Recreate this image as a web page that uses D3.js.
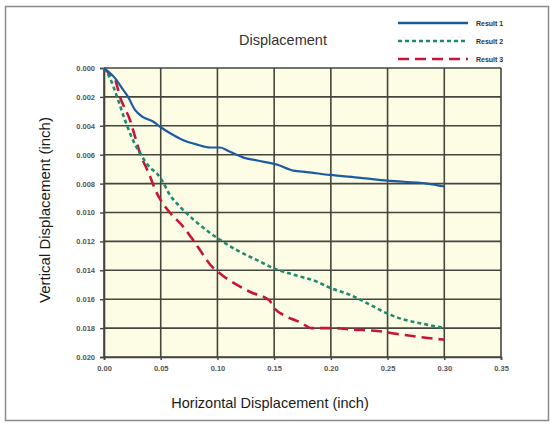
<!DOCTYPE html>
<html><head><meta charset="utf-8">
<script src="https://cdn.jsdelivr.net/npm/d3@7/dist/d3.min.js"></script>
<style>body{margin:0;background:#fff;}svg{display:block;}</style>
</head><body>
<svg id="c" width="550" height="424"></svg>
<script>
const xTicks = [0,0.05,0.10,0.15,0.20,0.25,0.30,0.35];
const yTicks = [0,0.002,0.004,0.006,0.008,0.010,0.012,0.014,0.016,0.018,0.020];
const seriesNames = ["Result 1","Result 2","Result 3"];
const r1x = [0,0.0097,0.0168,0.0212,0.0273,0.0344,0.0432,0.050,0.058,0.070,0.082,0.0935,0.102,0.111,0.123,0.135,0.153,0.167,0.179,0.199,0.226,0.250,0.285,0.300];
const r1y = [0,0.0007,0.0015,0.0020,0.0029,0.0034,0.0037,0.0041,0.0045,0.0050,0.0053,0.0055,0.0055,0.0058,0.0062,0.0064,0.0067,0.0071,0.0072,0.0074,0.0076,0.0078,0.0080,0.0082];
const r2x = [0,0.0053,0.0115,0.0185,0.0256,0.0318,0.0406,0.0467,0.0512,0.0582,0.067,0.082,0.1005,0.117,0.135,0.151,0.167,0.188,0.199,0.217,0.235,0.250,0.264,0.281,0.300];
const r2y = [0,0.0007,0.0020,0.0036,0.0050,0.0059,0.0069,0.0073,0.0078,0.0088,0.0096,0.0107,0.0118,0.0126,0.0133,0.0139,0.0143,0.0148,0.0152,0.0157,0.0164,0.0170,0.0174,0.0177,0.0180];
const r3x = [0,0.0035,0.0097,0.0141,0.0229,0.0318,0.0406,0.045,0.0512,0.058,0.070,0.0785,0.0864,0.0935,0.102,0.129,0.146,0.149,0.161,0.173,0.183,0.202,0.220,0.241,0.258,0.276,0.300];
const r3y = [0,0.0003,0.0008,0.0020,0.0036,0.0059,0.0075,0.0084,0.0093,0.0100,0.0110,0.0119,0.0128,0.0136,0.0142,0.0155,0.0161,0.0165,0.0172,0.0176,0.0180,0.0180,0.0181,0.0182,0.0184,0.0186,0.0188];

const svg = d3.select("#c");
const L=104, R=501, T=68, B=357;
const x = d3.scaleLinear().domain([0,0.35]).range([L,R]);
const y = d3.scaleLinear().domain([0,0.020]).range([T,B]);
const FONT = "Liberation Sans, Arial, sans-serif";

svg.append("rect").attr("x",5.5).attr("y",6.5).attr("width",543).attr("height",414)
  .attr("fill","#fff").attr("stroke","#8a8a8a").attr("stroke-width",1.5);

svg.append("rect").attr("x",L).attr("y",T).attr("width",R-L).attr("height",B-T).attr("fill","#fdfde6");

const grid = svg.append("g").attr("stroke","#45453c").attr("stroke-width",1.6);
grid.selectAll(".gx").data(xTicks).join("line")
  .attr("x1",d=>x(d)).attr("x2",d=>x(d)).attr("y1",T).attr("y2",B);
grid.selectAll(".gy").data(yTicks).join("line")
  .attr("x1",L).attr("x2",R).attr("y1",d=>y(d)).attr("y2",d=>y(d));

const fmtY = d3.format(".3f"), fmtX = d3.format(".2f");
const yAxis = d3.axisLeft(y).tickValues(yTicks).tickFormat(fmtY).tickSize(4).tickPadding(5);
const xAxis = d3.axisBottom(x).tickValues(xTicks).tickFormat(fmtX).tickSize(3).tickPadding(6);
const ga = svg.append("g").attr("transform",`translate(${L},0)`).call(yAxis);
const gb = svg.append("g").attr("transform",`translate(0,${B})`).call(xAxis);
[ga,gb].forEach(g=>{
  g.select(".domain").attr("stroke","#45453c").attr("stroke-width",1.6);
  g.selectAll(".tick line").attr("stroke","#45453c").attr("stroke-width",1.4);
  g.selectAll("text").attr("font-family",FONT)
   .attr("font-size",7.5).attr("font-weight","bold").attr("fill","#555");
});

const series = [
  {name:seriesNames[0], xs:r1x, ys:r1y, color:"#1d5aa3", dash:null, w:2.2},
  {name:seriesNames[1], xs:r2x, ys:r2y, color:"#1e8a70", dash:"4,3", w:2.6},
  {name:seriesNames[2], xs:r3x, ys:r3y, color:"#c8143a", dash:"11,6", w:2.6}
];
const line = d3.line().x(d=>x(d[0])).y(d=>y(d[1])).curve(d3.curveMonotoneX);
series.slice().reverse().forEach(s=>{
  svg.append("path").datum(s.xs.map((v,i)=>[v,s.ys[i]]))
    .attr("d",line).attr("fill","none").attr("stroke",s.color)
    .attr("stroke-width",s.w).attr("stroke-dasharray",s.dash)
    .attr("stroke-linejoin","round");
});

const lg = svg.append("g");
series.forEach((s,i)=>{
  const yy = 23 + i*18;
  lg.append("line").attr("x1",398).attr("x2",468).attr("y1",yy).attr("y2",yy)
    .attr("stroke",s.color).attr("stroke-width",2.6).attr("stroke-dasharray",s.dash);
  lg.append("text").attr("x",476).attr("y",yy+3).text(s.name)
    .attr("font-family",FONT).attr("font-size",7)
    .attr("font-weight","bold").attr("fill","#333");
});

svg.append("text").attr("x",283).attr("y",45).attr("text-anchor","middle")
  .attr("font-family",FONT).attr("font-size",14.5)
  .attr("fill","#333").text("Displacement");
svg.append("text").attr("x",270).attr("y",408).attr("text-anchor","middle")
  .attr("font-family",FONT).attr("font-size",14.5)
  .attr("fill","#1a1a1a").text("Horizontal Displacement (inch)");
svg.append("text").attr("transform","translate(50,210) rotate(-90)").attr("text-anchor","middle")
  .attr("font-family",FONT).attr("font-size",15)
  .attr("fill","#1a1a1a").text("Vertical Displacement (inch)");
</script>
</body></html>
